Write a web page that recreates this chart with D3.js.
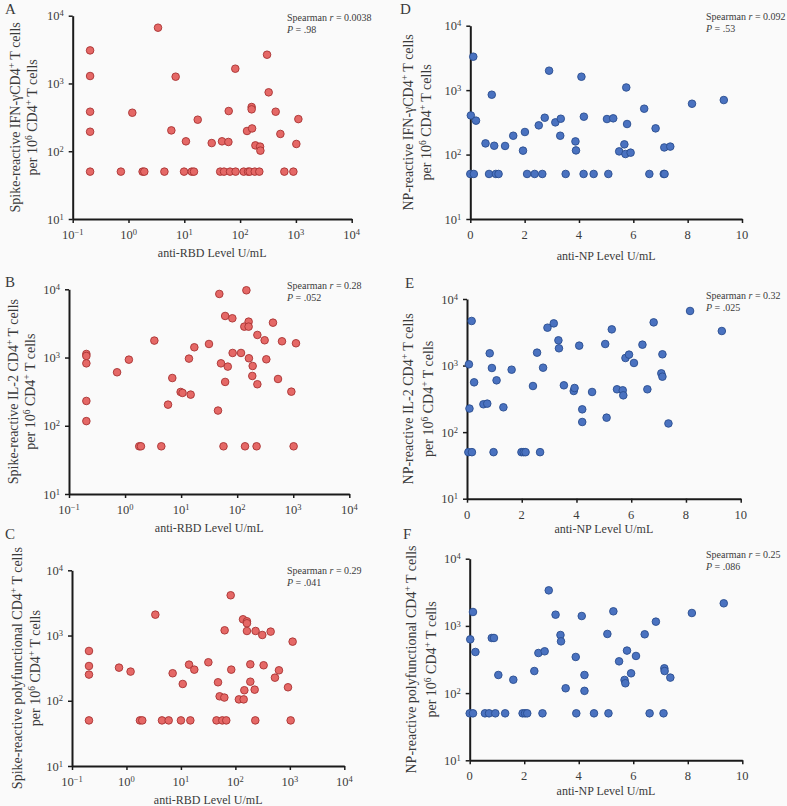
<!DOCTYPE html>
<html><head><meta charset="utf-8">
<script src="https://cdn.jsdelivr.net/npm/d3@7"></script>
<style>
body{margin:0;background:#fafafa}
svg{display:block;background:#fafafa}
text{font-family:"Liberation Serif","DejaVu Serif",serif;fill:#3a3a3a}
</style>
</head><body>
<svg id="chart" width="787" height="806"></svg>
<script>
// ---------------- DATA ----------------
// [anti-RBD U/mL, cells per 10^6 CD4+ T cells]
const spikeIfn = [[0.205,3076],[0.205,1288],[0.205,383],[0.205,194],[0.205,50],[0.73,50],[1.17,370],[1.79,50],[1.92,50],[3.38,6655],[4.4,50],[5.86,203],[7.0,1259],[9.9,50],[10.7,140],[13.6,50],[14.9,50],[17.4,292],[31,132],[44,50],[47.4,140],[51.5,50],[61.7,137],[62.5,392],[66,50],[82,1652],[83,50],[116,50],[133,199],[139,50],[149,50],[161,449],[161,415],[164,217],[183,50],[188,122],[228,117],[231,102],[221,50],[304,2657],[325,740],[434,383],[527,180],[621,50],[901,50],[1018,128],[1107,298]];
const spikeIl2 = [[146,9670],[48,8550],[61,4065],[82,3758],[160,3356],[435,3243],[134,2836],[160,2836],[229,2143],[309,1791],[630,1730],[1119,1618],[3.33,1771],[31.4,1580],[17.2,1413],[83,1167],[117,1167],[0.204,1128],[0.204,1054],[0.204,822],[1.17,931],[13.8,964],[162,975],[331,942],[51.4,822],[68,736],[189,752],[0.72,608],[6.96,501],[186,537],[535,485],[61,439],[229,406],[9.8,313],[10.6,303],[14.8,286],[925,316],[0.204,231],[5.84,204],[45.5,167],[0.204,117],[1.79,50],[1.92,50],[4.43,50],[57,50],[138,50],[222,50],[1016,50]];
const spikePoly = [[82,4140],[3.39,2089],[138,1774],[163,1653],[163,1541],[63.5,1202],[163,1174],[235,1174],[312,1020],[444,1148],[1125,806],[0.205,580],[0.205,341],[0.205,252],[0.205,50],[0.73,322],[1.19,280],[7.05,264],[14.1,358],[17.6,300],[31.9,389],[10.8,181],[84,300],[188,362],[330,350],[631,293],[533,226],[48,192],[188,196],[925,161],[146,145],[226,148],[51.4,117],[62.7,112],[116,105],[142,105],[1.77,50],[1.95,50],[4.49,50],[5.96,50],[10,50],[14.9,50],[45,50],[57.5,50],[68,50],[232,50],[1035,50]];
// [anti-NP U/mL, cells per 10^6 CD4+ T cells]
const npIfn = [[0.11,3305],[0.02,405],[0.21,336],[0.0,50],[0.13,50],[0.79,849],[0.56,149],[0.88,137],[0.69,50],[0.94,50],[1.04,50],[1.28,136],[1.58,196],[1.94,115],[2.01,224],[2.09,50],[2.37,50],[2.52,284],[2.65,50],[2.74,373],[2.90,2004],[3.13,316],[3.33,360],[3.31,196],[3.51,50],[3.87,160],[3.89,116],[4.09,1614],[4.18,387],[4.17,50],[4.54,50],[5.03,356],[5.26,365],[5.08,50],[5.48,112],[5.67,144],[5.71,102],[5.90,107],[5.77,298],[5.74,1100],[6.40,515],[6.59,50],[6.82,255],[7.12,50],[7.15,50],[7.14,129],[7.36,133],[8.16,615],[9.33,702]];
const npIl2 = [[0.17,4677],[0.07,1045],[0.26,560],[0.09,226],[0.05,50],[0.18,50],[0.83,1528],[0.91,919],[1.08,600],[0.60,262],[0.74,268],[0.97,50],[1.33,236],[1.63,867],[1.99,50],[2.07,50],[2.14,50],[2.41,493],[2.56,1563],[2.67,50],[2.78,929],[2.94,3708],[3.17,4303],[3.34,2394],[3.36,1817],[3.54,505],[3.90,415],[3.93,460],[4.10,1991],[4.21,220],[4.21,142],[4.57,401],[5.05,2108],[5.10,165],[5.29,3498],[5.48,440],[5.69,425],[5.71,357],[5.79,1300],[5.92,1459],[6.10,1094],[6.41,2060],[6.59,440],[6.82,4455],[7.14,1476],[7.10,764],[7.14,681],[7.36,135],[8.15,6608],[9.31,3305]];
const npPoly = [[0.12,1611],[0.02,631],[0.21,409],[0.0,50],[0.12,50],[0.56,50],[0.71,50],[0.81,661],[0.89,661],[0.94,50],[1.05,186],[1.30,50],[1.60,158],[1.94,50],[2.03,50],[2.11,50],[2.37,213],[2.52,395],[2.75,419],[2.67,50],[2.90,3380],[3.15,1469],[3.33,732],[3.35,589],[3.52,118],[3.89,345],[3.91,50],[4.11,1403],[4.21,186],[4.21,108],[4.56,50],[5.05,759],[5.27,1648],[5.09,50],[5.48,297],[5.68,157],[5.71,140],[5.77,429],[5.92,197],[6.10,357],[6.42,750],[6.60,50],[6.83,1156],[7.11,50],[7.14,234],[7.15,213],[7.36,170],[8.15,1556],[9.32,2168]];

const yTicks = [10, 100, 1000, 10000];
const yTickLabels = ["1", "2", "3", "4"];           // exponents of 10
const rbdTicks = [0.1, 1, 10, 100, 1000, 10000];
const rbdTickLabels = ["\u22121", "0", "1", "2", "3", "4"]; // exponents of 10
const npTicks = [0, 2, 4, 6, 8, 10];
const npTickLabels = ["0", "2", "4", "6", "8", "10"];

const panelLetters = ["A", "B", "C", "D", "E", "F"];
const yTitles = [
  "Spike-reactive IFN-\u03b3CD4^{+} T cells",
  "Spike-reactive IL-2 CD4^{+} T cells",
  "Spike-reactive polyfunctional CD4^{+} T cells",
  "NP-reactive IFN-\u03b3CD4^{+} T cells",
  "NP-reactive IL-2 CD4^{+} T cells",
  "NP-reactive polyfunctional CD4^{+} T cells"
];
const yTitle2 = "per 10^{6} CD4^{+} T cells";
const xTitles = ["anti-RBD Level U/mL", "anti-NP Level U/mL"];
const spearmanR = ["0.0038", "0.28", "0.29", "0.092", "0.32", "0.25"];
const pValues = [".98", ".052", ".041", ".53", ".025", ".086"];

// ---------------- LAYOUT ----------------
const layout = [
  {l:72.7, r:351.7, t:15.7, b:219,   letter:[5,14],   t1x:15, t2x:32, xt:34, ann:[287,21],  data:spikeIfn,  kind:"rbd"},
  {l:69,   r:349.3, t:289.3, b:494,  letter:[5,287],  t1x:13, t2x:30, xt:34, ann:[287,289], data:spikeIl2,  kind:"rbd"},
  {l:72,   r:344.3, t:570.3, b:766,  letter:[5,539],  t1x:17, t2x:35, xt:34, ann:[287,574], data:spikePoly, kind:"rbd"},
  {l:470.3,r:742,   t:25.7, b:219,   letter:[400,14], t1x:408,t2x:426,xt:37, ann:[706,20],  data:npIfn,     kind:"np"},
  {l:467,  r:740.7, t:299,  b:498.7, letter:[405,288],t1x:408,t2x:428,xt:30, ann:[706,299], data:npIl2,     kind:"np"},
  {l:469.7,r:742.3, t:558.7,b:760.3, letter:[403,539],t1x:411,t2x:431,xt:31, ann:[706,558], data:npPoly,    kind:"np"}
];
const colors = {
  rbd: {fill:"#e56866", stroke:"#a83232"},
  np:  {fill:"#4a72c0", stroke:"#294d8e"}
};

const svg = d3.select("#chart");

// rich text helper: ^{..} superscript, *..* italic
function rich(sel, str, supSize) {
  const parts = str.split(/(\^\{[^}]*\}|\*[^*]*\*)/).filter(s => s.length);
  let raised = false;
  parts.forEach(p => {
    if (p.startsWith("^{")) {
      sel.append("tspan").attr("font-size", supSize).attr("dy", "-0.45em").text(p.slice(2, -1));
      raised = true;
    } else if (p.startsWith("*")) {
      const t = sel.append("tspan").attr("font-style", "italic").text(p.slice(1, -1));
      if (raised) { t.attr("dy", "0.32em"); raised = false; }
    } else {
      const t = sel.append("tspan").text(p);
      if (raised) { t.attr("dy", "0.32em"); raised = false; }
    }
  });
}

layout.forEach((L, i) => {
  const g = svg.append("g");
  const isLog = L.kind === "rbd";
  const x = isLog
    ? d3.scaleLog().domain([0.1, 10000]).range([L.l, L.r])
    : d3.scaleLinear().domain([0, 10]).range([L.l, L.r]);
  const y = d3.scaleLog().domain([10, 10000]).range([L.b, L.t]);
  const xt = isLog ? rbdTicks : npTicks;
  const xl = isLog ? rbdTickLabels : npTickLabels;

  // axes
  const ax = g.append("g").attr("transform", `translate(0,${L.b})`)
    .call(d3.axisBottom(x).tickValues(xt).tickSize(4).tickSizeOuter(0).tickFormat(() => ""));
  const ay = g.append("g").attr("transform", `translate(${L.l},0)`)
    .call(d3.axisLeft(y).tickValues(yTicks).tickSize(4).tickSizeOuter(0).tickFormat(() => ""));
  [ax, ay].forEach(a => {
    a.select(".domain").attr("stroke", "#1a1a1a").attr("stroke-width", 2);
    a.selectAll(".tick line").attr("stroke", "#1a1a1a").attr("stroke-width", 1.5);
  });

  // x tick labels
  xt.forEach((v, k) => {
    const t = g.append("text").attr("x", x(v)).attr("y", L.b + 20)
      .attr("text-anchor", "middle").attr("font-size", 12.5);
    if (isLog) rich(t, "10^{" + xl[k] + "}", 8.5);
    else t.text(xl[k]);
  });
  // y tick labels
  yTicks.forEach((v, k) => {
    const t = g.append("text").attr("x", L.l - 9).attr("y", y(v) + 4.5)
      .attr("text-anchor", "end").attr("font-size", 12.5);
    rich(t, "10^{" + yTickLabels[k] + "}", 8.5);
  });

  // points
  const c = colors[L.kind];
  g.append("g").selectAll("circle").data(L.data).join("circle")
    .attr("cx", d => x(d[0])).attr("cy", d => y(d[1])).attr("r", 3.8)
    .attr("fill", c.fill).attr("stroke", c.stroke).attr("stroke-width", 0.9);

  // titles
  const cy = (L.t + L.b) / 2;
  const t1 = g.append("text").attr("transform", `translate(${L.t1x + 4.5},${cy}) rotate(-90)`)
    .attr("text-anchor", "middle").attr("font-size", 14);
  rich(t1, yTitles[i], 9.5);
  const t2 = g.append("text").attr("transform", `translate(${L.t2x + 4.5},${cy}) rotate(-90)`)
    .attr("text-anchor", "middle").attr("font-size", 14);
  rich(t2, yTitle2, 9.5);

  g.append("text").attr("x", (L.l + L.r) / 2).attr("y", L.b + L.xt + 4)
    .attr("text-anchor", "middle").attr("font-size", 12).text(xTitles[isLog ? 0 : 1]);

  // panel letter
  g.append("text").attr("x", L.letter[0]).attr("y", L.letter[1])
    .attr("font-size", 15).attr("fill", "#222").text(panelLetters[i]);

  // annotation
  const a1 = g.append("text").attr("x", L.ann[0]).attr("y", L.ann[1]).attr("font-size", 10);
  rich(a1, "Spearman *r* = " + spearmanR[i], 7);
  const a2 = g.append("text").attr("x", L.ann[0]).attr("y", L.ann[1] + 12).attr("font-size", 10);
  rich(a2, "*P* = " + pValues[i], 7);
});
</script>
</body></html>
